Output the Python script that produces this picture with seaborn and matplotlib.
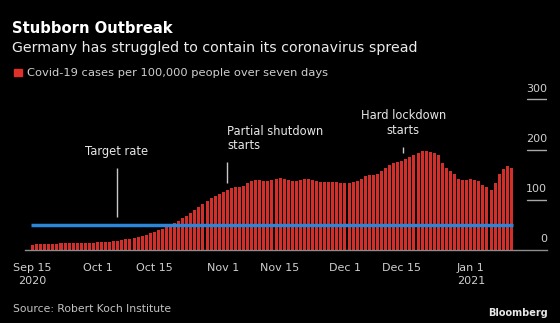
import numpy as np
import pandas as pd
import matplotlib
matplotlib.use("Agg")
import matplotlib.pyplot as plt
from matplotlib.patches import Rectangle
import seaborn as sns

# ---------------- data ----------------
dates = pd.date_range("2020-09-15", "2021-01-11", freq="D")
cases = [
    10, 11, 11, 12, 12, 12, 12, 13, 13, 13,
    13, 13, 14, 14, 14, 14, 15, 15, 16, 16,
    17, 18, 19, 21, 22, 24, 26, 28, 30, 33,
    36, 39, 42, 46, 50, 54, 58, 63, 68, 74,
    80, 85, 91, 97, 103, 108, 112, 116, 119, 123,
    125, 126, 128, 133, 137, 139, 139, 138, 138, 140,
    142, 143, 142, 139, 138, 138, 140, 141, 141, 139,
    138, 136, 136, 136, 136, 135, 134, 134, 134, 135,
    138, 142, 147, 149, 150, 151, 157, 163, 170, 174,
    176, 177, 181, 186, 190, 194, 197, 197, 195, 194,
    190, 173, 163, 158, 152, 141, 140, 140, 141, 140,
    138, 130, 125, 119, 134, 152, 161, 167, 164,
]
target_rate = 50

tick_dates = ["2020-09-15", "2020-10-01", "2020-10-15", "2020-11-01",
              "2020-11-15", "2020-12-01", "2020-12-15", "2021-01-01"]
tick_labels = ["Sep 15\n2020", "Oct 1", "Oct 15", "Nov 1",
               "Nov 15", "Dec 1", "Dec 15", "Jan 1\n2021"]
y_ticks = [0, 100, 200, 300]

ann_texts = ["Target rate", "Partial shutdown\nstarts", "Hard lockdown\nstarts"]
ann_days = [20.75, 47.9, 91.4]          # x position (days since Sep 15)
ann_text_y = [196, 222, 253]            # text block centre (value units)
ann_line_y = [(66, 163), (134, 176), (194, 206)]
ann_ha = ["center", "left", "center"]

title = "Stubborn Outbreak"
subtitle = "Germany has struggled to contain its coronavirus spread"
legend_label = "Covid-19 cases per 100,000 people over seven days"
source = "Source: Robert Koch Institute"

# ---------------- style ----------------
sns.set_style("dark")
plt.rcParams["font.family"] = ["DejaVu Sans"]

BG = "black"
RED = "#d22f2b"
BLUE = "#2b86d9"
GRAY_TXT = "#cfcfcf"
GRAY_LINE = "#8c8c8c"

W, H = 560, 323
fig = plt.figure(figsize=(W / 100, H / 100), dpi=100, facecolor=BG)


def fx(px):
    return px / W


def fy(py):
    return 1 - py / H


PX_PER_DAY = 4.057
X0_PX = 32.6
AX_L, AX_R, AX_B = 25, 547, 250
YTOP = 310
PX_PER_UNIT = 0.5023
AX_T = AX_B - YTOP * PX_PER_UNIT

ax = fig.add_axes([fx(AX_L), fy(AX_B), (AX_R - AX_L) / W, (AX_B - AX_T) / H])
ax.set_facecolor(BG)

df = pd.DataFrame({"date": dates, "cases": cases})
df["day"] = (df["date"] - dates[0]).dt.days

sns.barplot(data=df, x="day", y="cases", native_scale=True, color=RED,
            saturation=1, width=0.74, errorbar=None, ax=ax, linewidth=0)

ax.hlines(target_rate, df["day"].iloc[0] - 0.4, df["day"].iloc[-1] + 0.4,
          color=BLUE, lw=2.5, zorder=5)

ax.set_xlim(-(X0_PX - AX_L) / PX_PER_DAY, (AX_R - X0_PX) / PX_PER_DAY)
ax.set_ylim(0, YTOP)
ax.grid(False)
for s in ["left", "right", "top"]:
    ax.spines[s].set_visible(False)
ax.spines["bottom"].set_color(GRAY_LINE)
ax.spines["bottom"].set_linewidth(1)

tick_days = [(pd.Timestamp(d) - dates[0]).days for d in tick_dates]
ax.set_xticks(tick_days)
ax.set_xticklabels(tick_labels)
ax.tick_params(axis="x", colors=GRAY_LINE, length=4, width=1, pad=5.3,
               labelcolor=GRAY_TXT, labelsize=8)
for lab in ax.get_xticklabels():
    lab.set_linespacing(1.4)
ax.set_xlabel("")
ax.set_ylabel("")
ax.set_yticks([])

# right-side short grid segments + labels
gx0 = (527 - AX_L) / (AX_R - AX_L)
for v in y_ticks:
    if v > 0:
        ax.axhline(v, xmin=gx0, xmax=1, color="#a8a8a8", lw=1)
    ax.annotate(str(v), xy=(1, v), xycoords=("axes fraction", "data"),
                xytext=(0, 5.4), textcoords="offset points",
                ha="right", va="baseline", color=GRAY_TXT, fontsize=8)

# annotations
for t, xd, ty, (ly0, ly1), ha in zip(ann_texts, ann_days, ann_text_y,
                                     ann_line_y, ann_ha):
    ax.vlines(xd, ly0, ly1, color="#c8c8c8", lw=1, zorder=6)
    ax.text(xd, ty, t, ha=ha, va="center", color="#e6e6e6", fontsize=8.3,
            linespacing=1.15, multialignment=ha)

# ---------------- header / footer text ----------------
renderer = fig.canvas.get_renderer()


def fit(txt, target_px):
    w = txt.get_window_extent(renderer).width
    txt.set_fontsize(txt.get_fontsize() * target_px / w)
    return txt


fit(fig.text(fx(12.5), fy(32.7), title, color="white", fontweight="bold",
             fontsize=10.6, va="baseline", ha="left"), 161)
fit(fig.text(fx(12.5), fy(51.7), subtitle, color="#ececec", fontsize=9.5,
             va="baseline", ha="left"), 406)
fig.patches.append(Rectangle((fx(14), fy(76.3)), 7.5 / W, 7.3 / H,
                             transform=fig.transFigure, color="#e0302a",
                             figure=fig))
fit(fig.text(fx(26.7), fy(76.2), legend_label, color=GRAY_TXT, fontsize=8,
             va="baseline", ha="left"), 301)
fit(fig.text(fx(12.7), fy(311.7), source, color="#c4c4c4", fontsize=8,
             va="baseline", ha="left"), 158)
fit(fig.text(fx(547.7), fy(315.7), "Bloomberg", color="#e8e8e8",
             fontweight="bold", fontsize=7.5, va="baseline", ha="right"), 60)

fig.savefig("out.png", dpi=100, facecolor=BG)
